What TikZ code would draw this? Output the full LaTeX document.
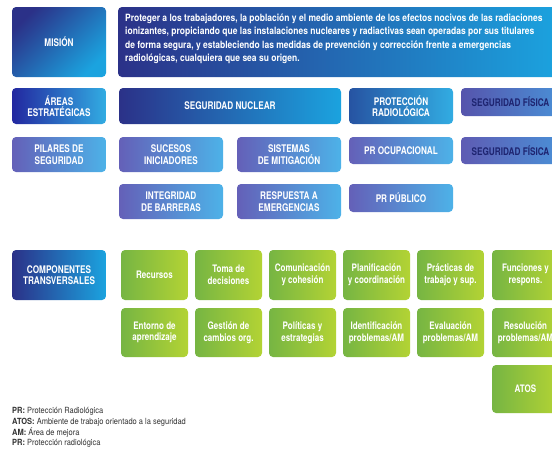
\documentclass[tikz,border=0pt]{standalone}
\usepackage{fontspec}
\newfontfamily\cond[FakeStretch=0.78]{TeX Gyre Heros}
\newfontfamily\condw[FakeStretch=0.85]{TeX Gyre Heros}
\newfontfamily\condl[FakeStretch=0.88]{TeX Gyre Heros}
\definecolor{navy}{HTML}{2B3188}
\definecolor{cyanb}{HTML}{1BA3DF}
\definecolor{purp}{HTML}{6460B8}
\definecolor{lblue}{HTML}{4DB2E8}
\definecolor{gleft}{HTML}{76B543}
\definecolor{gright}{HTML}{B3D334}
\definecolor{fisdark}{HTML}{1E2470}
\definecolor{fisright}{HTML}{4A8FD6}
\definecolor{legtext}{HTML}{333333}
\newcommand\bx[7]{\node[box,#6,minimum width={#4-#2},minimum height={#5-#3}] (#1) at ({(#2+#4)/2},{(#3+#5)/2}) {#7};}
\begin{document}
\begin{tikzpicture}[x=1pt,y=-1pt,
  box/.style={rounded corners=4pt,inner sep=0pt,align=center,text=white,
    font=\cond\bfseries\fontsize{10.5}{11.5}\selectfont},
  dark/.style={left color=navy,right color=cyanb},
  mid/.style={left color=#1,right color=cyanb!90!white},
  pale/.style={left color=purp,right color=lblue},
  fis/.style={left color=#1,right color=fisright,text=fisdark},
  grn/.style={left color=gleft,right color=gright,
    font=\cond\bfseries\fontsize{10.3}{11.5}\selectfont},
  legend/.style={anchor=north west,align=left,inner sep=0pt,text=legtext,
    font=\condl\fontsize{8.5}{10.8}\selectfont}]
\clip (0,0) rectangle (552,461);
\fill[white] (0,0) rectangle (552,461);
% mission row
\bx{mision}{12}{7}{106}{77}{top color=navy,bottom color=cyanb,shading angle=45}{MISIÓN}
\bx{mtext}{118}{7}{560}{77}{dark}{}
\node[anchor=west,align=left,inner sep=0pt,text=white,
  font=\condw\bfseries\fontsize{10}{13.5}\selectfont] (mtxt) at (125,39)
 {Proteger a los trabajadores, la población y el medio ambiente de los efectos nocivos de las radiaciones\\
  ionizantes, propiciando que las instalaciones nucleares y radiactivas sean operadas por sus titulares\\
  de forma segura, y estableciendo las medidas de prevención y corrección frente a emergencias\\
  radiológicas, cualquiera que sea su origen.};
% areas
\bx{areas}{12}{88}{106}{124}{mid=navy!80!blue}{ÁREAS\\ESTRATÉGICAS}
\bx{segnuc}{119}{88}{341}{124}{dark}{SEGURIDAD NUCLEAR}
\bx{pr}{349}{88}{453}{124}{mid=navy!70!cyanb}{PROTECCIÓN\\RADIOLÓGICA}
\bx{segfis}{461}{88}{560}{116}{fis=purp!75!navy}{SEGURIDAD FÍSICA}
% pilares
\bx{pilares}{12}{137}{106}{172}{pale}{PILARES DE\\SEGURIDAD}
\bx{sucesos}{119}{137}{223}{172}{pale}{SUCESOS\\INICIADORES}
\bx{sistemas}{237}{137}{341}{172}{pale}{SISTEMAS\\DE MITIGACIÓN}
\bx{procup}{349}{137}{453}{164}{pale}{PR OCUPACIONAL}
\bx{segfisb}{461}{137}{560}{164}{fis=purp!90!navy}{SEGURIDAD FÍSICA}
\bx{integ}{119}{184}{223}{219}{pale}{INTEGRIDAD\\DE BARRERAS}
\bx{resp}{237}{184}{341}{219}{pale}{RESPUESTA A\\EMERGENCIAS}
\bx{prpub}{349}{184}{453}{212}{pale}{PR PÚBLICO}
% componentes
\bx{comp}{12}{250}{106}{300}{dark}{COMPONENTES\\TRANSVERSALES}
\bx{g1}{121}{250}{188}{300}{grn}{Recursos}
\bx{g2}{195}{250}{262}{300}{grn}{Toma de\\decisiones}
\bx{g3}{269}{250}{336}{300}{grn}{Comunicación\\y cohesión}
\bx{g4}{343}{250}{410}{300}{grn}{Planificación\\y coordinación}
\bx{g5}{417}{250}{484}{300}{grn}{Prácticas de\\trabajo y sup.}
\bx{g6}{492}{250}{559}{300}{grn}{Funciones y\\respons.}
\bx{h1}{121}{308}{188}{357}{grn}{Entorno de\\aprendizaje}
\bx{h2}{195}{308}{262}{357}{grn}{Gestión de\\cambios org.}
\bx{h3}{269}{308}{336}{357}{grn}{Políticas y\\estrategias}
\bx{h4}{343}{308}{410}{357}{grn}{Identificación\\problemas/AM}
\bx{h5}{417}{308}{484}{357}{grn}{Evaluación\\problemas/AM}
\bx{h6}{492}{308}{559}{357}{grn}{Resolución\\problemas/AM}
\bx{atos}{492}{365}{559}{413}{grn}{ATOS}
% legend
\node[legend] (leg) at (12,407)
 {\textbf{PR:} Protección Radiológica\\
  \textbf{ATOS:} Ambiente de trabajo orientado a la seguridad\\
  \textbf{AM:} Área de mejora\\
  \textbf{PR:} Protección radiológica};
\end{tikzpicture}
\end{document}
